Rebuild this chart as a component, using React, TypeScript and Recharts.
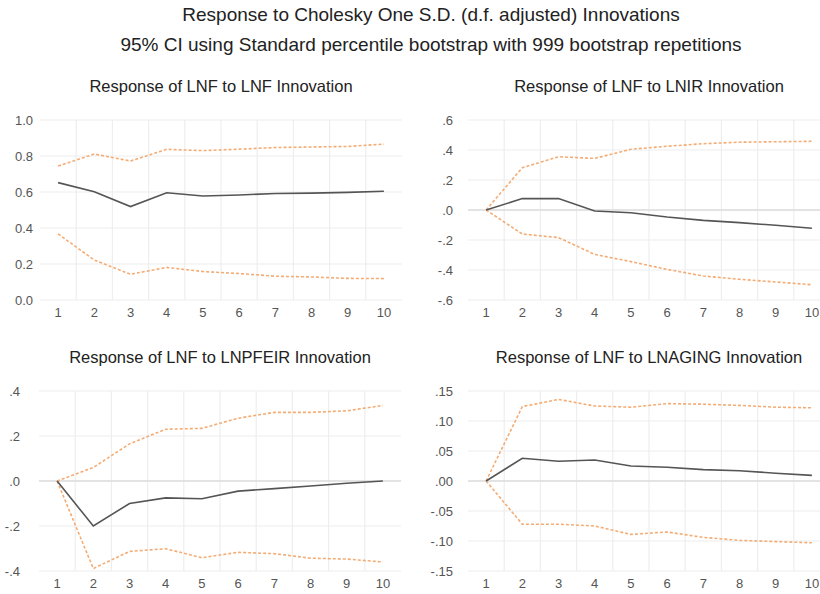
import { LineChart, Line, XAxis, YAxis, CartesianGrid, ReferenceLine } from "recharts";

const periods = [1, 2, 3, 4, 5, 6, 7, 8, 9, 10];

// LNF -> LNF
const lnfMid = [0.652, 0.602, 0.519, 0.596, 0.578, 0.583, 0.592, 0.594, 0.598, 0.604];
const lnfUp = [0.744, 0.811, 0.772, 0.837, 0.83, 0.838, 0.847, 0.85, 0.853, 0.866];
const lnfLo = [0.367, 0.222, 0.143, 0.181, 0.158, 0.147, 0.132, 0.128, 0.12, 0.119];
const lnfTicks = [0, 0.2, 0.4, 0.6, 0.8, 1.0];

// LNF -> LNIR
const lnirMid = [0, 0.076, 0.076, -0.007, -0.018, -0.047, -0.069, -0.084, -0.102, -0.122];
const lnirUp = [0, 0.282, 0.355, 0.344, 0.405, 0.425, 0.442, 0.452, 0.455, 0.458];
const lnirLo = [0, -0.16, -0.184, -0.296, -0.344, -0.396, -0.44, -0.462, -0.48, -0.498];
const lnirTicks = [-0.6, -0.4, -0.2, 0, 0.2, 0.4, 0.6];

// LNF -> LNPFEIR
const pfeMid = [0, -0.2, -0.1, -0.075, -0.079, -0.045, -0.034, -0.022, -0.01, 0];
const pfeUp = [0, 0.06, 0.165, 0.23, 0.234, 0.279, 0.305, 0.305, 0.312, 0.336];
const pfeLo = [0, -0.389, -0.313, -0.301, -0.341, -0.317, -0.323, -0.343, -0.347, -0.36];
const pfeTicks = [-0.4, -0.2, 0, 0.2, 0.4];

// LNF -> LNAGING
const agMid = [0, 0.038, 0.033, 0.035, 0.025, 0.023, 0.019, 0.017, 0.013, 0.0094];
const agUp = [0, 0.124, 0.136, 0.125, 0.123, 0.129, 0.128, 0.126, 0.123, 0.122];
const agLo = [0, -0.072, -0.072, -0.075, -0.089, -0.085, -0.094, -0.099, -0.101, -0.103];
const agTicks = [-0.15, -0.1, -0.05, 0, 0.05, 0.1, 0.15];

const FONT = "'Liberation Sans', Arial, sans-serif";

function fmtPlain(v: number) {
  return v.toFixed(1);
}

function fmtDot(digits: number) {
  return (v: number) => {
    const s = Math.abs(v).toFixed(digits).replace(/^0/, "");
    return v < 0 ? "-" + s : s;
  };
}

type PanelProps = {
  title: string;
  left: number;
  top: number;
  plotLeft: number;
  labelGap: number;
  mid: number[];
  up: number[];
  lo: number[];
  ticks: number[];
  fmt: (v: number) => string;
  zeroLine: boolean;
};

function Panel({ title, left, top, plotLeft, labelGap, mid, up, lo, ticks, fmt, zeroLine }: PanelProps) {
  const data = periods.map((p, i) => ({ p, mid: mid[i], up: up[i], lo: lo[i] }));
  const bounds = periods.slice(0, -1).map((p) => p + 0.5);
  const plotW = 362;
  const width = plotLeft + plotW + 10;
  return (
    <div style={{ position: "absolute", left, top }}>
      <div
        style={{
          position: "absolute",
          left: plotLeft,
          width: plotW,
          top: 1,
          textAlign: "center",
          fontSize: 16.5,
          color: "#222",
          whiteSpace: "nowrap",
        }}
      >
        {title}
      </div>
      <div style={{ position: "absolute", left: 0, top: 34 }}>
        <LineChart
          width={width}
          height={220}
          data={data}
          margin={{ top: 10, right: 10, bottom: 0, left: 0 }}
          style={{ fontFamily: FONT }}
        >
          <CartesianGrid vertical={false} stroke="#eeeeee" strokeWidth={1.2} />
          {bounds.map((b) => (
            <ReferenceLine key={b} x={b} stroke="#eeeeee" strokeWidth={1.2} />
          ))}
          {zeroLine && <ReferenceLine y={0} stroke="#dddddd" strokeWidth={1.5} />}
          <XAxis
            dataKey="p"
            type="number"
            domain={[0.5, 10.5]}
            ticks={periods}
            axisLine={false}
            tickLine={false}
            height={30}
            tick={{ fontSize: 13, fill: "#555" }}
          />
          <YAxis
            type="number"
            domain={[ticks[0], ticks[ticks.length - 1]]}
            ticks={ticks}
            tickFormatter={fmt}
            axisLine={false}
            tickLine={false}
            tickSize={0}
            tickMargin={labelGap}
            width={plotLeft}
            tick={{ fontSize: 13, fill: "#555" }}
          />
          <Line dataKey="up" stroke="#f4ac74" strokeWidth={1.6} strokeDasharray="3 2" dot={false} isAnimationActive={false} />
          <Line dataKey="lo" stroke="#f4ac74" strokeWidth={1.6} strokeDasharray="3 2" dot={false} isAnimationActive={false} />
          <Line dataKey="mid" stroke="#555555" strokeWidth={1.6} dot={false} isAnimationActive={false} />
        </LineChart>
      </div>
    </div>
  );
}

export default function App() {
  return (
    <div
      style={{
        position: "absolute",
        left: 0,
        top: 0,
        width: 820,
        height: 594,
        overflow: "hidden",
        background: "#fff",
        fontFamily: FONT,
      }}
    >
      <div style={{ position: "absolute", left: 0, width: 862, top: 4, textAlign: "center", fontSize: 19, color: "#222", whiteSpace: "nowrap" }}>
        Response to Cholesky One S.D. (d.f. adjusted) Innovations
      </div>
      <div style={{ position: "absolute", left: 0, width: 862, top: 34, textAlign: "center", fontSize: 19, color: "#222", whiteSpace: "nowrap" }}>
        95% CI using Standard percentile bootstrap with 999 bootstrap repetitions
      </div>
      <Panel title="Response of LNF to LNF Innovation" left={0} top={76} plotLeft={40} labelGap={7} mid={lnfMid} up={lnfUp} lo={lnfLo} ticks={lnfTicks} fmt={fmtPlain} zeroLine={false} />
      <Panel title="Response of LNF to LNIR Innovation" left={410} top={76} plotLeft={58} labelGap={15} mid={lnirMid} up={lnirUp} lo={lnirLo} ticks={lnirTicks} fmt={fmtDot(1)} zeroLine={true} />
      <Panel title="Response of LNF to LNPFEIR Innovation" left={0} top={347} plotLeft={39} labelGap={19} mid={pfeMid} up={pfeUp} lo={pfeLo} ticks={pfeTicks} fmt={fmtDot(1)} zeroLine={true} />
      <Panel title="Response of LNF to LNAGING Innovation" left={410} top={347} plotLeft={58} labelGap={15} mid={agMid} up={agUp} lo={agLo} ticks={agTicks} fmt={fmtDot(2)} zeroLine={true} />
    </div>
  );
}
